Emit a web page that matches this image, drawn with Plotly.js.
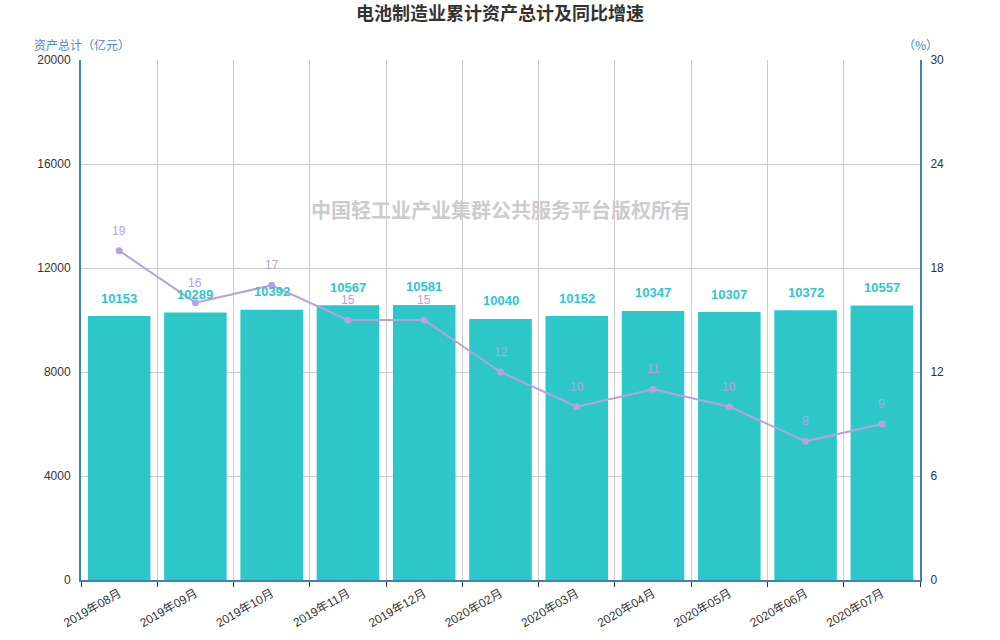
<!DOCTYPE html>
<html>
<head>
<meta charset="utf-8">
<script src="https://cdn.plot.ly/plotly-3.0.1.min.js"></script>
<style>html,body{margin:0;padding:0;background:#fff;}#chart{width:1000px;height:640px;}</style>
</head>
<body>
<div id="chart"></div>
<script>
const months = ["2019年08月","2019年09月","2019年10月","2019年11月","2019年12月","2020年02月","2020年03月","2020年04月","2020年05月","2020年06月","2020年07月"];
const assets = [10153,10289,10392,10567,10581,10040,10152,10347,10307,10372,10557];
const growth = [19,16,17,15,15,12,10,11,10,8,9];
const leftTicks = [0,4000,8000,12000,16000,20000];
const rightTicks = [0,6,12,18,24,30];

const FONT = '"Liberation Sans", Arial, "Noto Sans CJK SC", sans-serif';
const CJK = '"Noto Sans CJK SC", "Liberation Sans", sans-serif';
const TEAL = '#2ec7c9';
const LAV = '#b6a2de';
const AXISBLUE = '#3f81bf';

const bars = {
  type: 'bar', x: months, y: assets, name: '资产总计',
  marker: {color: TEAL}, hoverinfo: 'x+y'
};
const line = {
  type: 'scatter', mode: 'lines+markers', x: months, y: growth, yaxis: 'y2', name: '同比增速',
  line: {color: LAV, width: 2}, marker: {color: LAV, size: 7}, cliponaxis: false
};

const annotations = [];
months.forEach((m, i) => {
  annotations.push({x: m, y: assets[i], xref: 'x', yref: 'y', text: String(assets[i]), showarrow: false,
    yshift: 18, font: {family: FONT, size: 13, color: TEAL, weight: 'bold'}});
  annotations.push({x: m, y: growth[i], xref: 'x', yref: 'y2', text: String(growth[i]), showarrow: false,
    yshift: 20, font: {family: FONT, size: 12, color: LAV}});
});
annotations.push({xref: 'paper', yref: 'paper', x: -0.058, y: 1.0, yanchor: 'bottom', yshift: 5, xanchor: 'left', text: '资产总计（亿元）', showarrow: false,
  font: {family: CJK, size: 12, color: '#4a8bc8'}});
annotations.push({xref: 'paper', yref: 'paper', x: 1.0, y: 1.0, yanchor: 'bottom', yshift: 5, xanchor: 'center', text: '（%）', showarrow: false,
  font: {family: CJK, size: 12, color: '#4a8bc8'}});
annotations.push({xref: 'paper', yref: 'paper', x: 0.5, y: 0.713, xanchor: 'center', yanchor: 'middle', text: '中国轻工业产业集群公共服务平台版权所有', showarrow: false,
  font: {family: CJK, size: 20, color: '#cccccc', weight: 'bold'}});

const layout = {
  width: 1000, height: 640,
  margin: {l: 81, r: 80, t: 60, b: 60},
  paper_bgcolor: '#fff', plot_bgcolor: '#fff',
  showlegend: false,
  bargap: 0.18,
  font: {family: FONT, size: 12, color: '#333'},
  title: {text: '电池制造业累计资产总计及同比增速', x: 0.5, xanchor: 'center', y: 0.988, yanchor: 'top',
    font: {family: CJK, size: 18, color: '#333', weight: 'bold'}},
  xaxis: {
    type: 'category', range: [-0.5, months.length - 0.5], autorange: false,
    tickson: 'boundaries', showgrid: true, gridcolor: '#cccccc', gridwidth: 1,
    ticks: 'outside', ticklen: 5, tickcolor: '#333', tickangle: -30,
    showline: true, linecolor: AXISBLUE, linewidth: 2,
    tickfont: {family: FONT, size: 12, color: '#333'}, zeroline: false
  },
  yaxis: {
    range: [0, 20000], tickvals: leftTicks, ticktext: leftTicks.map(String),
    showgrid: true, gridcolor: '#cccccc', gridwidth: 1, zeroline: false,
    showline: true, linecolor: AXISBLUE, linewidth: 2, ticks: '',
    ticklabelstandoff: 6,
    tickfont: {family: FONT, size: 12, color: '#333'}
  },
  yaxis2: {
    range: [0, 30], tickvals: rightTicks, ticktext: rightTicks.map(String),
    overlaying: 'y', side: 'right', showgrid: false, zeroline: false,
    showline: true, linecolor: AXISBLUE, linewidth: 2, ticks: '',
    ticklabelstandoff: 6,
    tickfont: {family: FONT, size: 12, color: '#333'}
  },
  annotations: annotations
};

Plotly.newPlot('chart', [bars, line], layout, {displayModeBar: false, staticPlot: true});
</script>
</body>
</html>
